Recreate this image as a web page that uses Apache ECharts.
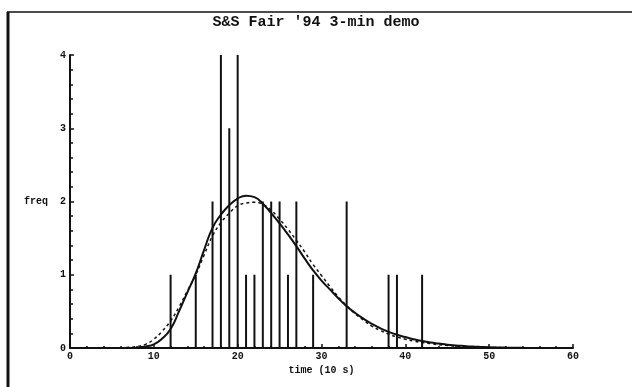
<!DOCTYPE html>
<html>
<head>
<meta charset="utf-8">
<script src="https://cdn.jsdelivr.net/npm/echarts@6/dist/echarts.min.js"></script>
<style>html,body{margin:0;padding:0;background:#fff}#c{width:632px;height:387px}</style>
</head>
<body>
<div id="c"></div>
<script>
const titleText = "S&S Fair '94 3-min demo";
const xName = "time (10 s)";
const yName = "freq";
const barX = [12, 15, 17, 18, 19, 20, 21, 22, 23, 24, 25, 26, 27, 29, 33, 38, 39, 42];
const barY = [1, 1, 2, 4, 3, 4, 1, 1, 2, 2, 2, 1, 2, 1, 2, 1, 1, 1];
const curveX = [6, 7, 8, 9, 10, 11, 12, 13, 14, 15, 16, 17, 18, 19, 20, 21, 22, 23, 24, 25, 26, 27, 28, 29, 30, 31, 32, 33, 34, 35, 36, 37, 38, 39, 40, 41, 42, 43, 44, 45, 46, 47, 48, 49, 50, 52, 54];
const solidY = [0, 0, 0.005, 0.02, 0.05, 0.13, 0.26, 0.5, 0.76, 1.02, 1.34, 1.64, 1.82, 1.95, 2.04, 2.08, 2.06, 1.97, 1.84, 1.7, 1.55, 1.39, 1.22, 1.06, 0.92, 0.8, 0.68, 0.57, 0.48, 0.4, 0.33, 0.27, 0.22, 0.18, 0.15, 0.12, 0.095, 0.075, 0.06, 0.045, 0.035, 0.027, 0.02, 0.015, 0.011, 0.006, 0.003];
const dashY = [0, 0.01, 0.02, 0.05, 0.12, 0.23, 0.37, 0.56, 0.78, 1.0, 1.27, 1.53, 1.71, 1.84, 1.94, 1.98, 1.99, 1.96, 1.88, 1.76, 1.62, 1.47, 1.31, 1.14, 0.99, 0.84, 0.7, 0.58, 0.47, 0.38, 0.3, 0.24, 0.19, 0.15, 0.12, 0.095, 0.075, 0.06, 0.045, 0.035, 0.027, 0.02, 0.015, 0.011, 0.008, 0.004, 0.002];

const chart = echarts.init(document.getElementById('c'), null, {renderer: 'canvas'});
const ink = '#111';
const lblFont = {color: ink, fontFamily: 'Liberation Mono', fontWeight: 'bold', fontSize: 10};
chart.setOption({
  animation: false,
  backgroundColor: '#fff',
  title: {
    text: titleText, left: 'center', top: 10,
    textStyle: {color: ink, fontFamily: 'Liberation Mono', fontWeight: 'bold', fontSize: 15, lineHeight: 15}
  },
  grid: {left: 70, right: 59, top: 55, bottom: 39},
  xAxis: {
    type: 'value', min: 0, max: 60, interval: 10,
    name: xName, nameLocation: 'middle', nameGap: 15, nameTextStyle: lblFont,
    axisLine: {lineStyle: {color: ink, width: 2}},
    axisTick: {inside: true, length: 4, lineStyle: {color: ink, width: 1.5}},
    minorTick: {show: true, splitNumber: 5, length: 2, lineStyle: {color: ink, width: 1.5}},
    axisLabel: Object.assign({margin: 3}, lblFont),
    splitLine: {show: false}
  },
  yAxis: {
    type: 'value', min: 0, max: 4, interval: 1,
    name: yName, nameLocation: 'middle', nameRotate: 0, nameGap: 22, nameTextStyle: lblFont,
    axisLine: {lineStyle: {color: ink, width: 2}},
    axisTick: {inside: true, length: 4, lineStyle: {color: ink, width: 1.5}},
    minorTick: {show: true, splitNumber: 5, length: 3, lineStyle: {color: ink, width: 1.5}},
    axisLabel: Object.assign({margin: 4}, lblFont),
    splitLine: {show: false}
  },
  series: [
    {
      type: 'bar', barWidth: 2,
      data: barX.map((x, i) => [x, barY[i]]),
      itemStyle: {color: ink}
    },
    {
      type: 'line', smooth: true, symbol: 'none',
      data: curveX.map((x, i) => [x, solidY[i]]),
      lineStyle: {color: ink, width: 2}
    },
    {
      type: 'line', smooth: true, symbol: 'none',
      data: curveX.map((x, i) => [x, dashY[i]]),
      lineStyle: {color: ink, width: 1.5, type: [3, 3]}
    }
  ],
  graphic: [
    {type: 'line', shape: {x1: 8, y1: 12, x2: 8, y2: 387}, style: {stroke: ink, lineWidth: 3}},
    {type: 'line', shape: {x1: 7, y1: 12, x2: 632, y2: 12}, style: {stroke: ink, lineWidth: 1.5}}
  ]
});
</script>
</body>
</html>
